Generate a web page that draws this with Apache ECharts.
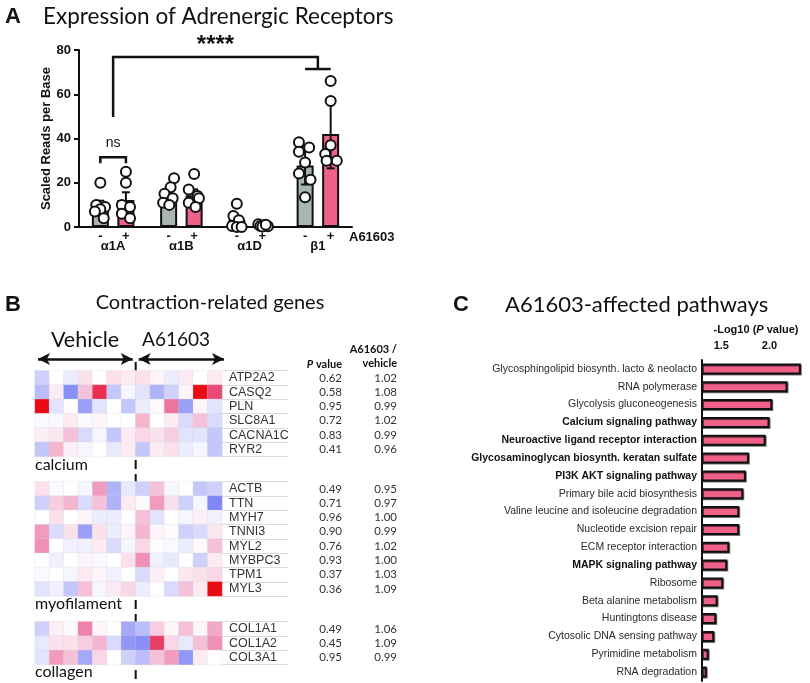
<!DOCTYPE html>
<html><head><meta charset="utf-8">
<script src="https://cdn.jsdelivr.net/npm/echarts@6/dist/echarts.min.js"></script>
<style>html,body{margin:0;padding:0;background:#fff}#c{width:810px;height:683px}</style>
</head><body><div id="c"></div>
<script>
// ---------- Panel A data ----------
const receptorCats = ['α1A', 'α1B', 'α1D', 'β1'];
const vehicleMeans = [9.7, 14.8, 3.2, 27.8];
const agonistMeans = [12.2, 14.3, 0.6, 42.0];
const vehicleErr = [2.2, 1.8, 1.5, 8.6];
const agonistErr = [3.5, 2.7, 0.3, 15.5];
const vehicleDots = [[20, 10, 9, 8, 7, 4], [22, 18, 15, 13, 11, 10], [10.5, 5, 3, 0.5, 0, 0], [38.3, 35.9, 34, 29.1, 24.2, 21.4, 13.4]];
const agonistDots = [[25, 20, 10, 9, 6, 4], [24, 17, 14, 13, 11, 9], [1.2, 0.8, 0.5, 0.3, 0.2, 1.0], [66, 57, 37, 33, 30, 30]];
const vehicleJitter = [[0, -0.06, 0.07, 0, -0.08, 0.05], [0.08, 0.03, -0.06, 0.06, -0.08, 0.01], [0, -0.05, 0.03, -0.07, 0, 0.07], [-0.09, 0.06, -0.09, 0, -0.09, 0.08, 0]];
const agonistJitter = [[0, 0, -0.06, 0.06, -0.06, 0.06], [0, -0.08, 0.05, 0.07, -0.08, 0.02], [-0.06, 0.03, -0.03, 0.08, 0, 0.05], [0, 0, 0, -0.08, -0.06, 0.09]];

// ---------- Panel B data ----------
const calciumGenes = ['ATP2A2', 'CASQ2', 'PLN', 'SLC8A1', 'CACNA1C', 'RYR2'];
const calciumP = ['0.62', '0.58', '0.95', '0.72', '0.83', '0.41'];
const calciumRatio = ['1.02', '1.08', '0.99', '1.02', '0.99', '0.96'];
const calciumZ = [
  [-0.25, 0, -0.1, 0.15, 0, 0.15, 0.1, 0.15, 0.05, -0.1, 0.1, 0, 0.1],
  [-0.35, 0.1, -0.6, 0.3, 0.85, -0.3, -0.05, -0.15, -0.4, -0.25, 0.05, 1.0, 0.75],
  [1.0, -0.15, 0, -0.5, -0.15, 0, -0.3, -0.1, 0.03, 0.6, -0.5, 0.05, -0.15],
  [-0.03, -0.03, 0.1, -0.02, 0.05, 0, 0, 0.35, 0, 0.1, -0.2, 0.3, -0.2],
  [0.08, 0.12, 0.3, -0.2, -0.05, -0.3, 0.1, 0.2, 0.15, 0.25, -0.15, -0.15, -0.3],
  [-0.3, 0.35, 0.08, -0.05, 0, -0.12, 0.1, -0.3, 0.1, 0.15, -0.1, -0.05, -0.3]
];
const myoGenes = ['ACTB', 'TTN', 'MYH7', 'TNNI3', 'MYL2', 'MYBPC3', 'TPM1', 'MYL3'];
const myoP = ['0.49', '0.71', '0.96', '0.90', '0.76', '0.93', '0.37', '0.36'];
const myoRatio = ['0.95', '0.97', '1.00', '0.99', '1.02', '1.00', '1.03', '1.09'];
const myoZ = [
  [0.15, -0.03, 0, -0.05, 0.45, -0.4, -0.12, -0.25, 0.3, -0.05, 0, -0.3, -0.25],
  [-0.25, 0.25, 0.35, -0.2, 0.3, -0.4, 0.1, 0.02, 0.45, 0.15, -0.25, -0.05, -0.65],
  [0, 0.15, 0, 0.05, -0.1, -0.1, 0, 0.3, -0.15, 0, -0.05, 0.08, -0.08],
  [0.45, -0.2, 0.15, -0.5, 0.15, -0.1, 0.05, 0.35, 0.05, 0.02, -0.25, -0.2, 0.12],
  [0.5, 0, -0.08, -0.08, 0.1, -0.2, -0.05, 0.2, 0.02, -0.03, -0.1, 0.03, 0.3],
  [0, -0.08, 0, 0.05, -0.03, 0, 0.15, 0.5, -0.08, -0.12, 0, -0.25, 0.1],
  [-0.03, 0, -0.05, 0.1, 0.05, -0.08, 0, -0.2, 0.08, 0, 0.12, 0.15, 0.2],
  [-0.15, -0.08, -0.3, 0.3, -0.05, 0.1, 0.2, -0.1, 0, -0.2, 0.3, 0.1, 1.0]
];
const colGenes = ['COL1A1', 'COL1A2', 'COL3A1'];
const colP = ['0.49', '0.45', '0.95'];
const colRatio = ['1.06', '1.09', '0.99'];
const colZ = [
  [-0.25, 0.08, 0.03, 0.55, 0.05, 0, -0.45, -0.35, 0.25, 0.05, 0.3, 0.05, 0.4],
  [-0.12, 0.15, 0.15, 0.25, 0.35, -0.2, -0.55, -0.6, 0.8, 0.2, -0.12, 0.3, 0.5],
  [-0.15, 0.45, 0.3, -0.45, 0.2, 0, -0.25, -0.35, 0.3, 0.45, -0.55, 0.1, 0]
];
const sampleCols = ['V1', 'V2', 'V3', 'V4', 'V5', 'V6', 'V7', 'A1', 'A2', 'A3', 'A4', 'A5', 'A6'];
const groupNames = ['calcium', 'myofilament', 'collagen'];

// ---------- Panel C data ----------
const pathways = [
  'Glycosphingolipid biosynth. lacto & neolacto', 'RNA polymerase', 'Glycolysis gluconeogenesis',
  'Calcium signaling pathway', 'Neuroactive ligand receptor interaction', 'Glycosaminoglycan biosynth. keratan sulfate',
  'PI3K AKT signaling pathway', 'Primary bile acid biosynthesis', 'Valine leucine and isoleucine degradation',
  'Nucleotide excision repair', 'ECM receptor interaction', 'MAPK signaling pathway', 'Ribosome',
  'Beta alanine metabolism', 'Huntingtons disease', 'Cytosolic DNA sensing pathway', 'Pyrimidine metabolism', 'RNA degradation'
];
const pathwayLogP = [2.325, 2.187, 2.029, 2.0, 1.96, 1.787, 1.755, 1.728, 1.686, 1.686, 1.583, 1.562, 1.52, 1.462, 1.448, 1.427, 1.369, 1.349];
const boldPathways = ['Calcium signaling pathway', 'Neuroactive ligand receptor interaction', 'Glycosaminoglycan biosynth. keratan sulfate', 'PI3K AKT signaling pathway', 'MAPK signaling pathway'];
const logTicks = [1.5, 2.0];

// ---------- styles ----------
const SANS = '"Liberation Sans", Arial, sans-serif';
const HUM = 'Lato, "Open Sans", sans-serif';
const GRAY = '#a9b5b1', PINK = '#ef6189', INK = '#111';
const BAR_OFF = 0.1875;

const chart = echarts.init(document.getElementById('c'));

function heatData(z) {
  const out = [];
  z.forEach((row, r) => row.forEach((v, c) => out.push([c, r, v])));
  return out;
}
const heatGroups = [
  {genes: calciumGenes, p: calciumP, ratio: calciumRatio, z: calciumZ, top: 370.7},
  {genes: myoGenes, p: myoP, ratio: myoRatio, z: myoZ, top: 481.7},
  {genes: colGenes, p: colP, ratio: colRatio, z: colZ, top: 621.7}
];
const ROWH = 14.3;

const grids = [{left: 79, top: 50, width: 273, height: 177}];
heatGroups.forEach(g => grids.push({left: 35, top: g.top, width: 187, height: g.genes.length * ROWH}));
grids.push({left: 702, top: 360, right: 0, height: 321});

const xAxes = [
  {type: 'category', gridIndex: 0, data: receptorCats,
   axisLine: {onZero: false, lineStyle: {color: INK, width: 2}}, axisTick: {show: false},
   axisLabel: {margin: 13, color: INK, fontWeight: 'bold', fontSize: 13, fontFamily: SANS}},
  {type: 'value', gridIndex: 0, min: -0.5, max: 3.5, show: false}
];
heatGroups.forEach((g, i) => xAxes.push({type: 'category', gridIndex: i + 1, data: sampleCols, show: false}));
xAxes.push({type: 'value', gridIndex: 4, position: 'top', min: 1.3, max: 2.42,
  name: '-Log10 ({i|P} value)', nameLocation: 'middle', nameGap: 25,
  nameTextStyle: {fontWeight: 'bold', fontSize: 11, fontFamily: SANS, color: INK,
    rich: {i: {fontStyle: 'italic', fontWeight: 'bold', fontSize: 11, fontFamily: SANS, color: INK}}},
  axisLine: {onZero: false, lineStyle: {color: INK, width: 2}},
  axisTick: {customValues: logTicks, length: 5, lineStyle: {color: INK, width: 2}},
  axisLabel: {customValues: logTicks, formatter: v => v.toFixed(1), margin: 9, fontWeight: 'bold', fontSize: 11, fontFamily: SANS, color: INK},
  splitLine: {show: false}});

const yAxes = [
  {type: 'value', gridIndex: 0, min: 0, max: 80, interval: 20,
   name: 'Scaled Reads per Base', nameLocation: 'middle', nameGap: 25,
   nameTextStyle: {fontWeight: 'bold', fontSize: 13, fontFamily: SANS, color: INK},
   axisLine: {show: true, onZero: false, lineStyle: {color: INK, width: 2}},
   axisTick: {show: true, length: 5, lineStyle: {color: INK, width: 2}},
   axisLabel: {margin: 8, fontWeight: 'bold', fontSize: 13, fontFamily: SANS, color: INK},
   splitLine: {show: false}}
];
heatGroups.forEach((g, i) => {
  yAxes.push({type: 'category', gridIndex: i + 1, data: g.genes, inverse: true, position: 'right',
    axisLine: {show: false, onZero: false},
    axisTick: {show: true, interval: 0, length: 66, lineStyle: {color: '#dcdcdc', width: 1}},
    axisLabel: {interval: 0, margin: 7, fontSize: 12.5, fontFamily: SANS, color: '#333'}});
  yAxes.push({type: 'category', gridIndex: i + 1, data: g.p, inverse: true, position: 'right', offset: 110,
    axisLine: {show: false, onZero: false}, axisTick: {show: false},
    axisLabel: {interval: 0, margin: 10, align: 'right', fontSize: 11.5, fontFamily: HUM, color: '#333'}});
  yAxes.push({type: 'category', gridIndex: i + 1, data: g.ratio, inverse: true, position: 'right', offset: 165,
    axisLine: {show: false, onZero: false}, axisTick: {show: false},
    axisLabel: {interval: 0, margin: 10, align: 'right', fontSize: 11.5, fontFamily: HUM, color: '#333'}});
});
const bold = new Set(boldPathways);
yAxes.push({type: 'category', gridIndex: 4, data: pathways, inverse: true,
  axisLine: {onZero: false, lineStyle: {color: INK, width: 2}}, axisTick: {show: false},
  axisLabel: {interval: 0, margin: 5, fontSize: 10.5, fontFamily: SANS, color: '#2a2a2a',
    formatter: v => bold.has(v) ? '{b|' + v + '}' : v,
    rich: {b: {fontWeight: 'bold', fontSize: 10.5, fontFamily: SANS, color: '#111'}}}});

function dotsData(dots, jit, off) {
  const out = [];
  dots.forEach((arr, i) => arr.forEach((v, k) => out.push([i + off + jit[i][k], v])));
  return out;
}
function errData(means, errs, off) {
  return means.map((m, i) => [i + off, m, errs[i]]);
}
const errSeries = (data) => ({
  type: 'custom', xAxisIndex: 1, yAxisIndex: 0, z: 3, data,
  renderItem: (params, api) => {
    const x = api.value(0), m = api.value(1), e = api.value(2);
    const t = api.coord([x, m + e]), b = api.coord([x, Math.max(0, m - e)]);
    const st = {stroke: INK, lineWidth: 2};
    return {type: 'group', children: [
      {type: 'line', shape: {x1: t[0], y1: t[1], x2: b[0], y2: b[1]}, style: st},
      {type: 'line', shape: {x1: t[0] - 4, y1: t[1], x2: t[0] + 4, y2: t[1]}, style: st},
      {type: 'line', shape: {x1: b[0] - 4, y1: b[1], x2: b[0] + 4, y2: b[1]}, style: st}
    ]};
  }
});

const series = [
  {type: 'bar', xAxisIndex: 0, yAxisIndex: 0, data: vehicleMeans, barWidth: 17, barGap: '50%',
   itemStyle: {color: GRAY, borderColor: INK, borderWidth: 2},
   label: {show: true, position: 'bottom', distance: 3, formatter: '-', fontWeight: 'bold', fontSize: 13, fontFamily: SANS, color: INK}},
  {type: 'bar', xAxisIndex: 0, yAxisIndex: 0, data: agonistMeans, barWidth: 17, barGap: '50%',
   itemStyle: {color: PINK, borderColor: INK, borderWidth: 2},
   label: {show: true, position: 'bottom', distance: 3, formatter: '+', fontWeight: 'bold', fontSize: 13, fontFamily: SANS, color: INK}},
  errSeries(errData(vehicleMeans, vehicleErr, -BAR_OFF)),
  errSeries(errData(agonistMeans, agonistErr, BAR_OFF)),
  {type: 'scatter', xAxisIndex: 1, yAxisIndex: 0, z: 5, symbolSize: 10,
   data: dotsData(vehicleDots, vehicleJitter, -BAR_OFF).concat(dotsData(agonistDots, agonistJitter, BAR_OFF)),
   itemStyle: {color: '#fff', borderColor: INK, borderWidth: 2, opacity: 1}}
];
const heatSeriesStart = series.length;
heatGroups.forEach((g, i) => series.push({
  type: 'heatmap', xAxisIndex: i + 2, yAxisIndex: 1 + i * 3, data: heatData(g.z),
  itemStyle: {borderColor: 'rgba(215,215,225,0.5)', borderWidth: 0.5}
}));
series.push({type: 'bar', xAxisIndex: 5, yAxisIndex: 10, data: pathwayLogP, barWidth: 11,
  itemStyle: {color: PINK, borderColor: INK, borderWidth: 2, shadowColor: 'rgba(0,0,0,0.55)', shadowOffsetX: 1, shadowOffsetY: 1}});

const T = (x, y, text, size, opts = {}) => ({type: 'text', x, y,
  style: Object.assign({text, fontSize: size, fontFamily: HUM, fill: '#111', textVerticalAlign: 'middle'}, opts)});

chart.setOption({
  animation: false,
  grid: grids, xAxis: xAxes, yAxis: yAxes, series,
  visualMap: {show: false, type: 'continuous', min: -1, max: 1, seriesIndex: [heatSeriesStart, heatSeriesStart + 1, heatSeriesStart + 2],
    inRange: {color: ['#4a55f0', '#6d75f4', '#9aa0f7', '#cfd1fb', '#ffffff', '#f7cde0', '#ef90b6', '#e84a78', '#ea0a14']}}
});

// ---------- overlays positioned through the axes ----------
const pA = (x, y) => chart.convertToPixel({xAxisIndex: 1, yAxisIndex: 0}, [x, y]);
const sigY = {mainLeg: 49.7, mainTop: 76.8, mainRight: 71.4, nsTop: 31.5, nsLeg: 28.8};
const a0 = pA(0, sigY.mainLeg), a1 = pA(0, sigY.mainTop), a2 = pA(3, sigY.mainTop), a3 = pA(3, sigY.mainRight);
const c1 = pA(3 - BAR_OFF, sigY.mainRight), c2 = pA(3 + BAR_OFF, sigY.mainRight);
const n1 = pA(-BAR_OFF, sigY.nsLeg), n2 = pA(-BAR_OFF, sigY.nsTop), n3 = pA(BAR_OFF, sigY.nsTop), n4 = pA(BAR_OFF, sigY.nsLeg);
const lineSt = {stroke: INK, lineWidth: 2.5, fill: null};

const c6 = chart.convertToPixel({xAxisIndex: 2}, 6), c7 = chart.convertToPixel({xAxisIndex: 2}, 7);
const cellW = c7 - c6, divX = (c6 + c7) / 2;
const hmLeft = c6 - 6.5 * cellW, hmRight = divX + 6 * cellW;
const arrowY = 359;

series[heatSeriesStart] = Object.assign({}, series[heatSeriesStart], {
  markLine: {silent: true, symbol: ['arrow', 'arrow'], symbolSize: [9, 12],
    lineStyle: {color: INK, width: 2.5, type: 'solid'}, label: {show: false},
    data: [[{x: hmLeft + 3, y: arrowY}, {x: divX - 3, y: arrowY}], [{x: divX + 3, y: arrowY}, {x: hmRight + 2, y: arrowY}]]}
});

chart.setOption({
  series,
  graphic: [
    T(5, 17, 'A', 22, {fontFamily: SANS, fontWeight: 'bold'}),
    T(43, 17, 'Expression of Adrenergic Receptors', 22.5),
    {type: 'polyline', shape: {points: [a0, a1, a2, a3]}, style: lineSt},
    {type: 'line', shape: {x1: c1[0], y1: c1[1], x2: c2[0], y2: c2[1]}, style: lineSt},
    {type: 'polyline', shape: {points: [n1, n2, n3, n4]}, style: lineSt},
    T((a1[0] + a2[0]) / 2, 45, '****', 24, {fontFamily: SANS, fontWeight: 'bold', textAlign: 'center'}),
    T((n2[0] + n3[0]) / 2, 143, 'ns', 14, {fontFamily: SANS, textAlign: 'center'}),
    T(349, 237, 'A61603', 13, {fontFamily: SANS, fontWeight: 'bold'}),

    T(5, 305, 'B', 22, {fontFamily: SANS, fontWeight: 'bold'}),
    T(210, 303, 'Contraction-related genes', 20, {textAlign: 'center'}),
    T(85, 340, 'Vehicle', 21.5, {textAlign: 'center'}),
    T(176, 340, 'A61603', 19, {textAlign: 'center'}),
    {type: 'line', shape: {x1: divX, y1: 362, x2: divX, y2: 690}, style: {stroke: INK, lineWidth: 2, lineDash: [9, 5]}},
    T(35, 465, groupNames[0], 16),
    T(35, 604, groupNames[1], 16),
    T(35, 672, groupNames[2], 16),
    {type: 'text', x: 342, y: 364, style: {text: '{i|P} value', align: 'right', verticalAlign: 'middle', fontFamily: HUM, fontSize: 11, fontWeight: 'bold', fill: '#111',
      rich: {i: {fontStyle: 'italic', fontWeight: 'bold', fontFamily: HUM, fontSize: 11, fill: '#111'}}}},
    T(397, 349, 'A61603 /', 11, {textAlign: 'right', fontWeight: 'bold'}),
    T(397, 363, 'vehicle', 11, {textAlign: 'right', fontWeight: 'bold'}),

    T(453, 305, 'C', 22, {fontFamily: SANS, fontWeight: 'bold'}),
    T(505, 305, 'A61603-affected pathways', 22)
  ]
});
</script></body></html>
